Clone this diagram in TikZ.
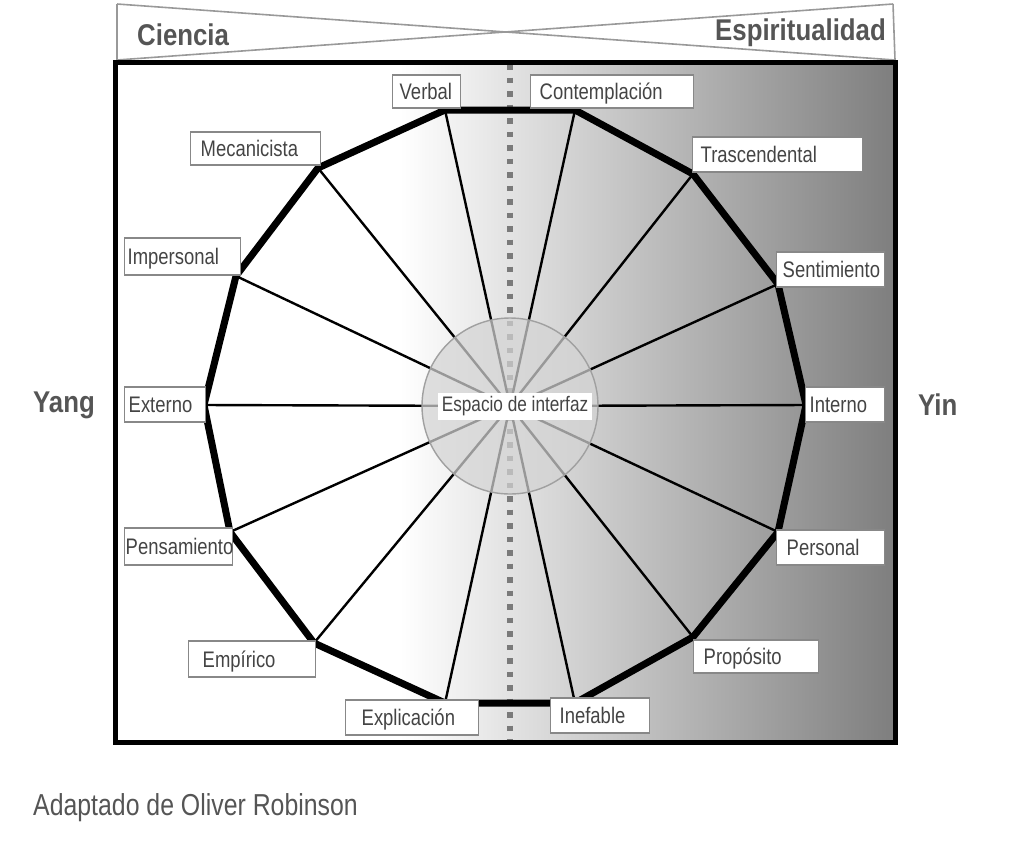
\documentclass[tikz,border=0pt]{standalone}
\usepackage{fontspec}
\setmainfont{Liberation Sans}
\newfontfamily\narrowfont{Liberation Sans}[FakeStretch=0.82]
\newfontfamily\narrowbold{Liberation Sans}[FakeStretch=0.86]
\definecolor{txtgray}{HTML}{444444}
\definecolor{headgray}{HTML}{555555}
\definecolor{boxgray}{HTML}{888888}
\definecolor{linegray}{HTML}{999999}
\definecolor{bgdark}{HTML}{7E7E7E}
\definecolor{dotgray}{HTML}{7A7A7A}
\definecolor{ringfill}{HTML}{D4D4D4}
\definecolor{ringline}{HTML}{A0A0A0}
\begin{document}
\begin{tikzpicture}[x=1pt,y=-1pt,
  lab/.style={draw=boxgray, line width=1.4pt, fill=white, text=txtgray,
    font=\narrowfont\fontsize{22.5}{26}\selectfont, align=left,
    text height=18pt, text depth=2pt,
    inner ysep=0pt, anchor=west},
  head/.style={text=headgray, font=\narrowbold\bfseries\fontsize{30}{34}\selectfont, inner sep=0pt},
  spoke/.style={line width=2.4pt, black},
  rim/.style={line width=7pt, black, line join=miter},
  hdr/.style={draw=linegray, line width=1.6pt}]
\useasboundingbox (0,0) rectangle (1024,847);

% header bow-tie
\coordinate (h1) at (117,4);
\coordinate (h2) at (893,4);
\coordinate (h3) at (895,60);
\coordinate (h4) at (117,60);
\draw[hdr] (h1) -- (h4);
\draw[hdr] (h2) -- (h3);
\draw[hdr] (h1) -- (h3);
\draw[hdr] (h4) -- (h2);
\node[head, anchor=west] (ciencia) at (137,35) {Ciencia};
\node[head, anchor=east] (espir) at (886,33) {Espiritualidad};

% frame background
\coordinate (f1) at (115,62);
\coordinate (f2) at (895,742);
\fill[white] (115,62) rectangle (400,742);
\shade[left color=white, right color=bgdark] (400,62) rectangle (895,742);

% dotted axis
\coordinate (d1) at (510,64);
\coordinate (d2) at (510,740);
\draw[dotgray, line width=5.5pt, dash pattern=on 5.5pt off 8pt] (d1) -- (d2);

% vertices
\coordinate (c) at (510,406);
\coordinate (v1) at (445,110);
\coordinate (v2) at (575,110);
\coordinate (v3) at (693,174);
\coordinate (v4) at (778,284);
\coordinate (v5) at (806,405);
\coordinate (v6) at (778,532);
\coordinate (v7) at (693,637);
\coordinate (v8) at (575,703);
\coordinate (v9) at (445,703);
\coordinate (v10) at (314,643);
\coordinate (v11) at (230,532);
\coordinate (v12) at (204,405);
\coordinate (v13) at (236,276);
\coordinate (v14) at (318,168);

\foreach \v in {v1,v2,v3,v4,v5,v6,v7,v8,v9,v10,v11,v12,v13,v14}
  \draw[spoke] (c) -- (\v);

% interface circle
\node[circle, minimum size=176pt, inner sep=0pt, fill=ringfill, fill opacity=0.72,
      draw=ringline, line width=1.4pt] (ring) at (c) {};

% rim
\draw[rim] (v1) -- (v2) -- (v3) -- (v4) -- (v5) -- (v6) -- (v7) -- (v8)
  -- (v9) -- (v10) -- (v11) -- (v12) -- (v13) -- (v14) -- cycle;

% frame border
\draw[black, line width=5pt] (f1) rectangle (f2);

% centre label
\node[fill=white, text=txtgray, font=\narrowfont\fontsize{21}{25}\selectfont,
      minimum width=154pt, minimum height=27pt, inner sep=0pt] (iface) at (515,406) {Espacio de interfaz};

% labels
\node[lab, inner xsep=7pt, text width=54pt, minimum height=33pt] (verbal) at (392,91.5) {Verbal};
\node[lab, inner xsep=9pt, text width=145pt, minimum height=33pt] (contemp) at (530,91.5) {Contemplación};
\node[lab, inner xsep=10pt, text width=110pt, minimum height=33pt] (mecan) at (190,148.5) {Mecanicista};
\node[lab, inner xsep=8pt, text width=154pt, minimum height=35pt] (trasc) at (692,154.5) {Trascendental};
\node[lab, inner xsep=3pt, text width=110pt, minimum height=37pt] (imper) at (124,256.5) {Impersonal};
\node[lab, inner xsep=6pt, text width=96pt, minimum height=35pt] (sentim) at (776,269.5) {Sentimiento};
\node[lab, inner xsep=4pt, text width=73pt, minimum height=35pt] (externo) at (124,404.5) {Externo};
\node[lab, inner xsep=4pt, text width=71pt, minimum height=35pt] (interno) at (805,404.5) {Interno};
\node[lab, inner xsep=1pt, text width=106pt, minimum height=37pt] (pensam) at (124,546.5) {Pensamiento};
\node[lab, inner xsep=10pt, text width=88pt, minimum height=35pt] (personal) at (776,547.5) {Personal};
\node[lab, inner xsep=14pt, text width=99pt, minimum height=36pt] (empir) at (188,659) {Empírico};
\node[lab, inner xsep=10pt, text width=105pt, minimum height=33pt] (propos) at (693,656.5) {Propósito};
\node[lab, inner xsep=16pt, text width=101pt, minimum height=35pt] (explic) at (345,717.5) {Explicación};
\node[lab, inner xsep=9pt, text width=81pt, minimum height=35pt] (inef) at (550,715.5) {Inefable};

% side labels
\node[head, anchor=west] (yang) at (33,405) {Yang};
\node[head, anchor=west] (yin) at (918,405) {Yin};

% credit
\node[text=headgray, font=\narrowfont\fontsize{30.3}{35}\selectfont, inner sep=0pt, anchor=west] (credit) at (33,808) {Adaptado de Oliver Robinson};
\end{tikzpicture}
\end{document}
